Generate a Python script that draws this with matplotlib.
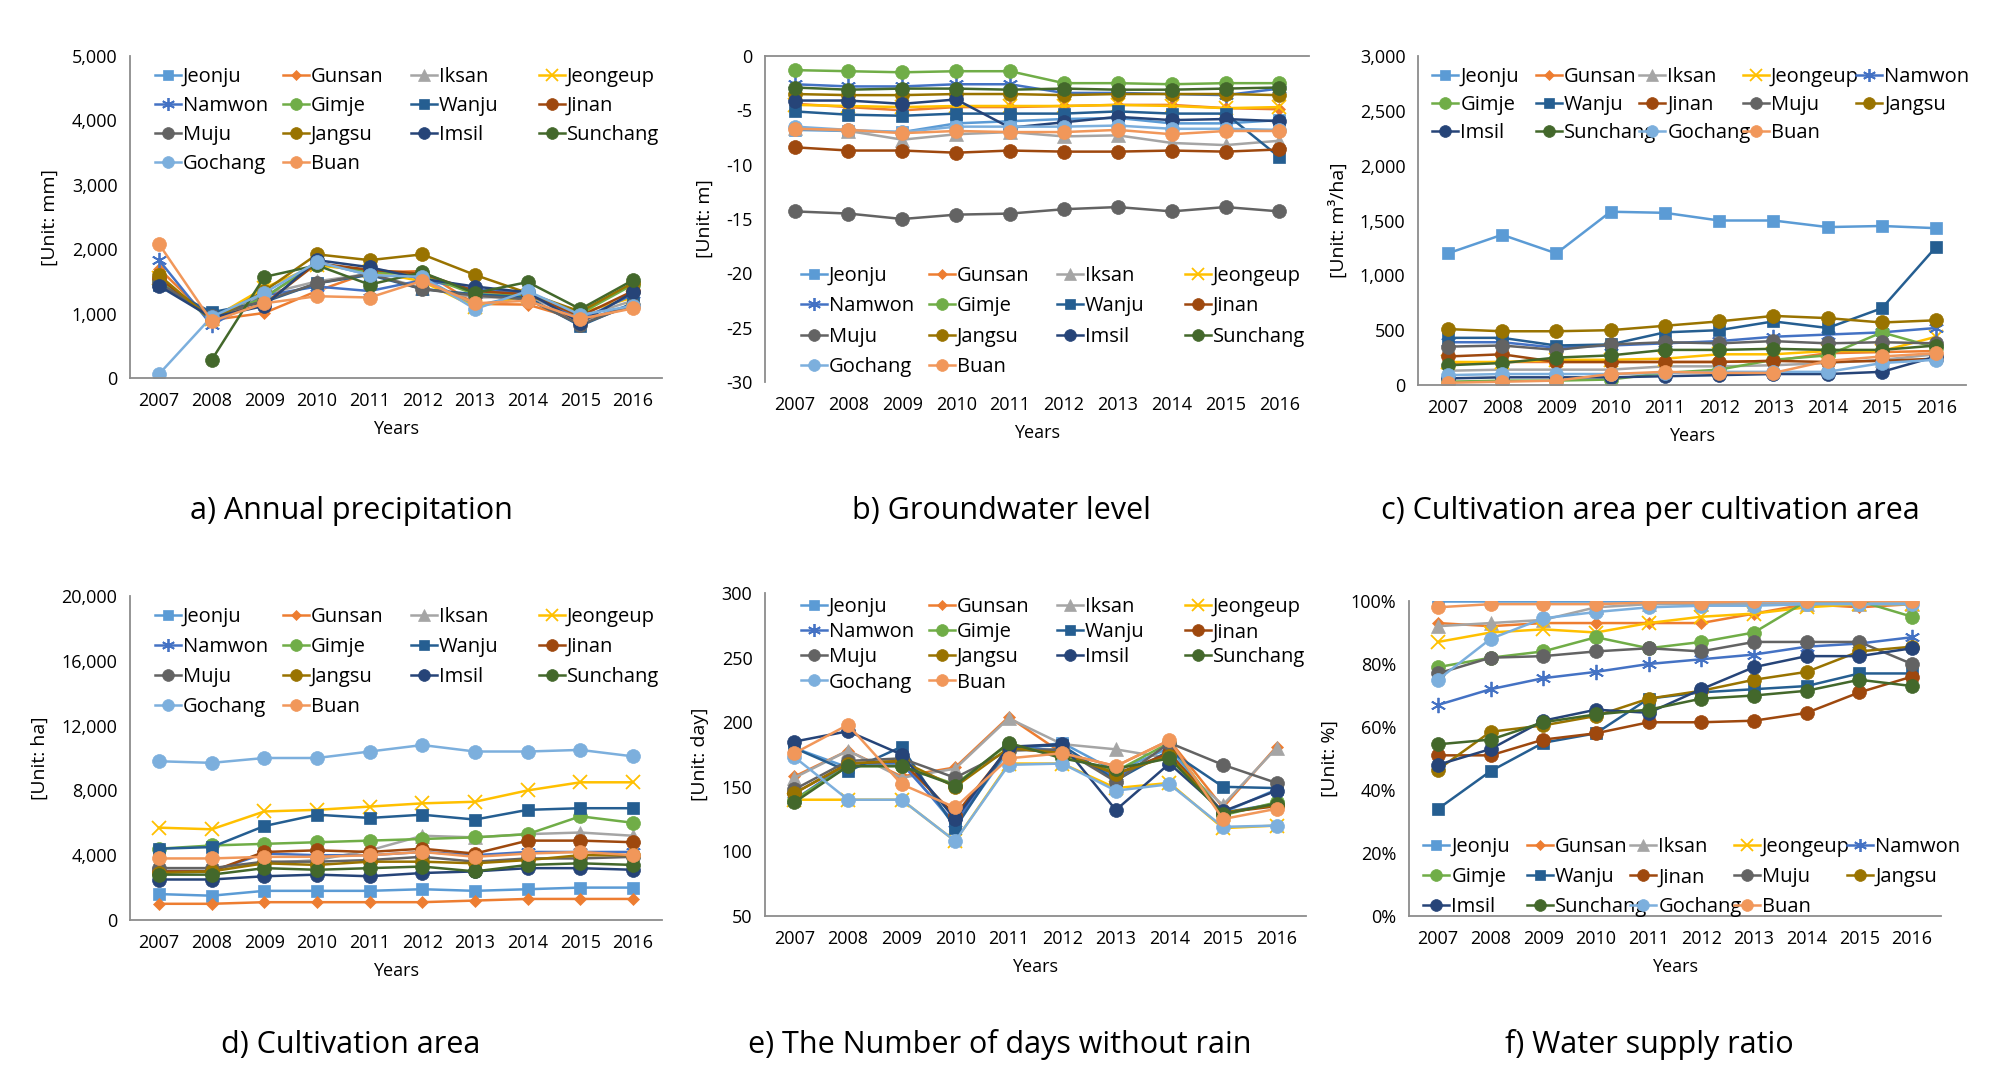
import numpy as np
import matplotlib
matplotlib.use("Agg")
import matplotlib.pyplot as plt
from matplotlib.legend import Legend
from matplotlib.ticker import FuncFormatter, MultipleLocator

plt.rcParams['font.family'] = ['Open Sans', 'DejaVu Sans']

years = ['2007', '2008', '2009', '2010', '2011', '2012', '2013', '2014', '2015', '2016']
regions = ['Jeonju', 'Gunsan', 'Iksan', 'Jeongeup', 'Namwon', 'Gimje', 'Wanju',
           'Jinan', 'Muju', 'Jangsu', 'Imsil', 'Sunchang', 'Gochang', 'Buan']

nan = np.nan

# a) Annual precipitation [mm]
precip = {
    'Jeonju':   [1500, 980, 1250, 1800, 1600, 1560, 1120, 1300, 880, 1150],
    'Gunsan':   [1700, 900, 1010, 1350, 1640, 1660, 1150, 1140, 900, 1100],
    'Iksan':    [1520, 930, 1300, 1500, 1620, 1400, 1250, 1260, 950, 1200],
    'Jeongeup': [1550, 920, 1400, 1750, 1660, 1500, 1100, 1280, 1010, 1250],
    'Namwon':   [1830, 820, 1280, 1420, 1350, 1520, 1380, 1310, 900, 1300],
    'Gimje':    [1520, 910, 1250, 1780, 1650, 1600, 1300, 1290, 1000, 1450],
    'Wanju':    [1450, 1020, 1180, 1470, 1600, 1380, 1300, 1250, 810, 1160],
    'Jinan':    [1560, 920, 1150, 1780, 1680, 1620, 1350, 1300, 960, 1350],
    'Muju':     [1480, 960, 1200, 1470, 1620, 1380, 1280, 1220, 830, 1140],
    'Jangsu':   [1600, 900, 1350, 1920, 1830, 1920, 1600, 1320, 1030, 1480],
    'Imsil':    [1430, 940, 1120, 1830, 1720, 1540, 1420, 1330, 860, 1330],
    'Sunchang': [nan, 280, 1570, 1750, 1450, 1640, 1320, 1490, 1070, 1520],
    'Gochang':  [60, 950, 1320, 1800, 1600, 1570, 1070, 1350, 980, 1120],
    'Buan':     [2080, 880, 1160, 1270, 1250, 1510, 1160, 1200, 920, 1080],
}

# b) Groundwater level [m]
gwl = {
    'Jeonju':   [-6.8, -6.9, -7.0, -6.2, -6.0, -5.8, -5.7, -6.2, -6.2, -5.9],
    'Gunsan':   [-4.4, -4.7, -5.0, -4.7, -4.7, -4.6, -4.5, -4.5, -4.8, -4.9],
    'Iksan':    [-6.6, -6.9, -7.7, -7.2, -7.0, -7.4, -7.3, -8.0, -8.2, -7.8],
    'Jeongeup': [-4.5, -4.6, -4.7, -4.6, -4.6, -4.6, -4.5, -4.6, -4.8, -4.7],
    'Namwon':   [-2.6, -2.8, -2.8, -2.6, -2.6, -3.4, -3.4, -3.5, -3.6, -3.0],
    'Gimje':    [-1.3, -1.4, -1.5, -1.4, -1.4, -2.5, -2.5, -2.6, -2.5, -2.5],
    'Wanju':    [-5.1, -5.4, -5.5, -5.3, -5.3, -5.3, -5.1, -5.3, -5.3, -9.3],
    'Jinan':    [-8.4, -8.7, -8.7, -8.9, -8.7, -8.8, -8.8, -8.7, -8.8, -8.6],
    'Muju':     [-14.3, -14.5, -15.0, -14.6, -14.5, -14.1, -13.9, -14.3, -13.9, -14.3],
    'Jangsu':   [-3.5, -3.6, -3.6, -3.5, -3.5, -3.6, -3.5, -3.5, -3.5, -3.6],
    'Imsil':    [-4.1, -4.1, -4.4, -4.0, -6.6, -6.1, -5.6, -5.9, -5.8, -6.0],
    'Sunchang': [-2.9, -3.1, -3.0, -3.0, -3.1, -3.0, -3.1, -3.1, -3.0, -2.9],
    'Gochang':  [-6.5, -6.8, -7.0, -6.5, -6.5, -6.5, -6.4, -6.7, -6.7, -6.8],
    'Buan':     [-6.7, -6.8, -7.1, -6.9, -7.0, -7.0, -6.8, -7.2, -6.9, -6.9],
}

# c) Cultivation area per cultivation area [m3/ha]
per_area = {
    'Jeonju':   [1200, 1370, 1200, 1580, 1570, 1500, 1500, 1440, 1450, 1430],
    'Gunsan':   [200, 210, 210, 210, 210, 210, 220, 290, 300, 310],
    'Iksan':    [130, 140, 140, 140, 170, 170, 180, 200, 230, 280],
    'Jeongeup': [210, 210, 230, 230, 240, 280, 280, 310, 310, 440],
    'Namwon':   [390, 390, 340, 360, 380, 400, 440, 460, 480, 520],
    'Gimje':    [30, 40, 40, 50, 110, 140, 230, 270, 480, 340],
    'Wanju':    [430, 430, 360, 370, 480, 500, 580, 520, 700, 1260],
    'Jinan':    [260, 280, 210, 210, 210, 210, 220, 210, 220, 240],
    'Muju':     [350, 360, 320, 370, 390, 380, 400, 380, 390, 380],
    'Jangsu':   [510, 490, 490, 500, 540, 580, 630, 610, 570, 590],
    'Imsil':    [60, 70, 70, 70, 80, 90, 100, 100, 120, 260],
    'Sunchang': [180, 200, 250, 270, 320, 320, 330, 320, 320, 360],
    'Gochang':  [90, 100, 100, 100, 110, 120, 120, 120, 200, 230],
    'Buan':     [20, 30, 40, 100, 120, 110, 110, 220, 260, 290],
}

# d) Cultivation area [ha]
cult = {
    'Jeonju':   [1600, 1500, 1800, 1800, 1800, 1900, 1800, 1900, 2000, 2000],
    'Gunsan':   [1000, 1000, 1100, 1100, 1100, 1100, 1200, 1300, 1300, 1300],
    'Iksan':    [3200, 3200, 3500, 3700, 4300, 5200, 5100, 5300, 5400, 5200],
    'Jeongeup': [5700, 5600, 6700, 6800, 7000, 7200, 7300, 8000, 8500, 8500],
    'Namwon':   [3000, 3000, 4100, 4000, 4000, 4200, 4000, 4200, 4200, 4200],
    'Gimje':    [4400, 4600, 4700, 4800, 4900, 5000, 5100, 5300, 6400, 6000],
    'Wanju':    [4400, 4500, 5800, 6500, 6300, 6500, 6200, 6800, 6900, 6900],
    'Jinan':    [3000, 3000, 4200, 4300, 4200, 4400, 4100, 4900, 4900, 4800],
    'Muju':     [3200, 3200, 3600, 3600, 3700, 3900, 3600, 3800, 3800, 3900],
    'Jangsu':   [2900, 3000, 3500, 3400, 3600, 3600, 3500, 3700, 4000, 4000],
    'Imsil':    [2500, 2500, 2700, 2800, 2700, 2900, 3000, 3200, 3200, 3100],
    'Sunchang': [2800, 2800, 3200, 3100, 3200, 3300, 3000, 3400, 3500, 3400],
    'Gochang':  [9800, 9700, 10000, 10000, 10400, 10800, 10400, 10400, 10500, 10100],
    'Buan':     [3800, 3800, 3900, 3900, 4000, 4200, 3900, 4100, 4200, 4000],
}

# e) Number of days without rain [day]
dry_days = {
    'Jeonju':   [180, 165, 170, 120, 178, 184, 162, 180, 130, 148],
    'Gunsan':   [158, 178, 158, 165, 204, 176, 166, 186, 134, 181],
    'Iksan':    [157, 178, 157, 164, 203, 183, 179, 172, 136, 180],
    'Jeongeup': [140, 140, 140, 108, 168, 168, 149, 153, 118, 120],
    'Namwon':   [140, 168, 168, 122, 181, 178, 158, 176, 130, 137],
    'Gimje':    [140, 166, 166, 152, 183, 174, 162, 184, 128, 138],
    'Wanju':    [180, 162, 181, 118, 181, 182, 155, 178, 150, 149],
    'Jinan':    [145, 168, 170, 128, 180, 176, 160, 176, 130, 135],
    'Muju':     [148, 170, 172, 157, 178, 179, 154, 184, 167, 153],
    'Jangsu':   [145, 168, 170, 150, 180, 176, 160, 174, 130, 136],
    'Imsil':    [185, 193, 175, 125, 181, 183, 132, 168, 131, 147],
    'Sunchang': [138, 166, 166, 151, 184, 172, 164, 172, 129, 137],
    'Gochang':  [173, 140, 140, 108, 167, 168, 147, 152, 119, 120],
    'Buan':     [176, 198, 152, 134, 172, 176, 166, 186, 125, 133],
}

# f) Water supply ratio [%]
supply = {
    'Jeonju':   [100, 100, 100, 100, 100, 100, 100, 100, 100, 100],
    'Gunsan':   [93, 92, 93, 93, 93, 93, 96, 99, 98, 99],
    'Iksan':    [92, 93, 94, 98, 99, 99, 99, 99, 99, 99],
    'Jeongeup': [87, 90, 91, 90, 93, 95, 96, 98, 99, 99],
    'Namwon':   [67, 72, 75.5, 77.5, 80, 81.5, 83, 85.5, 86.5, 88.5],
    'Gimje':    [79, 82, 84, 88.5, 85, 87, 90, 100, 100, 95],
    'Wanju':    [34, 46, 55, 58, 69, 71, 72, 73, 77, 77],
    'Jinan':    [51, 51, 56, 58, 61.5, 61.5, 62, 64.5, 71, 76],
    'Muju':     [77, 82, 82.5, 84, 85, 84, 87, 87, 87, 80],
    'Jangsu':   [46.5, 58.5, 60.5, 63.5, 69, 71.5, 75, 77.5, 84, 85.5],
    'Imsil':    [48, 53, 62, 65.5, 64.5, 72, 79, 82.5, 82.5, 85],
    'Sunchang': [54.5, 56, 61.5, 64, 65.5, 69, 70, 71.5, 75, 73],
    'Gochang':  [75, 88, 94.5, 96.5, 98, 98.5, 98.5, 99, 99, 99],
    'Buan':     [98, 99, 99, 99, 99.5, 99.5, 100, 100, 100, 100],
}

colors = {
    'Jeonju': '#5B9BD5', 'Gunsan': '#ED7D31', 'Iksan': '#A5A5A5', 'Jeongeup': '#FFC000',
    'Namwon': '#4472C4', 'Gimje': '#70AD47', 'Wanju': '#255E91', 'Jinan': '#9E480E',
    'Muju': '#636363', 'Jangsu': '#997300', 'Imsil': '#264478', 'Sunchang': '#43682B',
    'Gochang': '#7CAFDD', 'Buan': '#F1975A',
}
markers = {
    'Jeonju': ('s', 9), 'Gunsan': ('D', 6.5), 'Iksan': ('^', 9.5), 'Jeongeup': ('x', 10),
    'Namwon': ((6, 2, 0), 11), 'Gimje': ('o', 10), 'Wanju': ('s', 9), 'Jinan': ('o', 10),
    'Muju': ('o', 10), 'Jangsu': ('o', 10), 'Imsil': ('o', 10), 'Sunchang': ('o', 10),
    'Gochang': ('o', 10), 'Buan': ('o', 10),
}

W, H = 2004, 1088
fig = plt.figure(figsize=(W / 100, H / 100), dpi=100)

def rect(l, r, t, b):
    return [l / W, 1 - b / H, (r - l) / W, (b - t) / H]

SPINE = '#8C8C8C'
FS = 13
LFS = 14.5
P4 = [128, 128, 128]
P5 = [103.5, 103.5, 103.5, 113.5]

panels = [
    dict(data=precip, px=(130, 662, 56, 378), ylim=(0, 5000), step=1000,
         fmt=lambda v, p: f'{v:,.0f}', ylabel='[Unit: mm]', ncol=4, lsp=0.45,
         leg=(0.02, 1.01), cap='a) Annual precipitation', capxy=(351, 511)),
    dict(data=gwl, px=(765, 1309, 56, 382), ylim=(-30, 0), step=5,
         fmt=lambda v, p: f'{v:.0f}', ylabel='[Unit: m]', ncol=4, top=True, lsp=0.52,
         leg=(0.04, 0.40), cap='b) Groundwater level', capxy=(1001, 511)),
    dict(data=per_area, px=(1418, 1966, 56, 385), ylim=(0, 3000), step=500,
         fmt=lambda v, p: f'{v:,.0f}', ylabel='[Unit: m³/ha]', ncol=5, lsp=0.4,
         leg=(0.0, 1.01), cap='c) Cultivation area per cultivation area', capxy=(1650, 511)),
    dict(data=cult, px=(130, 662, 596, 920), ylim=(0, 20000), step=4000,
         fmt=lambda v, p: f'{v:,.0f}', ylabel='[Unit: ha]', ncol=4, lsp=0.5,
         leg=(0.02, 1.01), cap='d) Cultivation area', capxy=(351, 1045)),
    dict(data=dry_days, px=(765, 1306, 593, 916), ylim=(50, 300), step=50,
         fmt=lambda v, p: f'{v:.0f}', ylabel='[Unit: day]', ncol=4, lsp=0.25,
         leg=(0.04, 1.03), cap='e) The Number of days without rain', capxy=(1000, 1045)),
    dict(data=supply, px=(1409, 1941, 601, 916), ylim=(0, 100), step=20,
         fmt=lambda v, p: f'{v:.0f}%', ylabel='[Unit: %]', ncol=5, lsp=0.5,
         leg=(0.0, 0.295), cap='f) Water supply ratio', capxy=(1649, 1045)),
]

x = np.arange(len(years))

for pn in panels:
    l, r_, t, b = pn['px']
    ax = fig.add_axes(rect(l, r_, t, b))
    axw = r_ - l
    handles = []
    for r in regions:
        m, ms = markers[r]
        mew = 1.3 if r in ('Jeongeup', 'Namwon') else 0.5
        h, = ax.plot(x, pn['data'][r], color=colors[r], lw=1.8, marker=m,
                     ms=ms, mec=colors[r], mfc=colors[r], mew=mew, label=r)
        handles.append(h)
    ax.set_xlim(-0.55, len(years) - 0.45)
    ax.set_ylim(*pn['ylim'])
    ax.yaxis.set_major_locator(MultipleLocator(pn['step']))
    ax.yaxis.set_major_formatter(FuncFormatter(pn['fmt']))
    ax.set_xticks(x)
    ax.set_xticklabels(years)
    ax.tick_params(axis='both', length=0, labelsize=FS, colors='#000000')
    ax.tick_params(axis='x', pad=10)
    ax.tick_params(axis='y', pad=9)
    for s in ('top', 'right', 'bottom', 'left'):
        ax.spines[s].set_visible(False)
    ax.spines['left'].set_visible(True)
    ax.spines['left'].set_color(SPINE)
    ax.spines['left'].set_linewidth(1.3)
    side = 'top' if pn.get('top') else 'bottom'
    ax.spines[side].set_visible(True)
    ax.spines[side].set_color(SPINE)
    ax.spines[side].set_linewidth(1.3)
    ax.set_xlabel('Years', fontsize=FS, labelpad=7)
    ax.set_ylabel(pn['ylabel'], fontsize=14, labelpad=9)
    ax.patch.set_alpha(0)

    # legend laid out row by row, one legend block per column at fixed pitch
    ncol = pn['ncol']
    pitches = P4 if ncol == 4 else P5
    n = len(handles)
    nrows = int(np.ceil(n / ncol))
    xpos, ypos = pn['leg']
    for c in range(ncol):
        idx = [rr * ncol + c for rr in range(nrows) if rr * ncol + c < n]
        leg = Legend(ax, [handles[i] for i in idx], [regions[i] for i in idx],
                     loc='upper left', bbox_to_anchor=(xpos, ypos),
                     frameon=False, fontsize=LFS, handlelength=1.3,
                     handletextpad=0.1, labelspacing=pn['lsp'],
                     borderaxespad=0.3, markerscale=0.85)
        ax.add_artist(leg)
        if c < ncol - 1:
            xpos += pitches[c] / axw

    fig.text(pn['capxy'][0] / W, 1 - pn['capxy'][1] / H, pn['cap'],
             fontsize=22, ha='center', va='center')

fig.savefig('out.png', dpi=100)
